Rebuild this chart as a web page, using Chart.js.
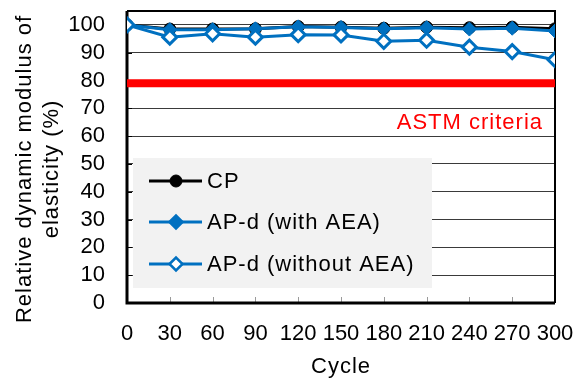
<!DOCTYPE html>
<html>
<head>
<meta charset="utf-8">
<script src="https://cdn.jsdelivr.net/npm/chart.js@4/dist/chart.umd.min.js"></script>
<style>
  html, body { margin: 0; padding: 0; background: #ffffff; }
  #wrap { width: 582px; height: 380px; }
</style>
</head>
<body>
<div id="wrap"><canvas id="c" width="582" height="380"></canvas></div>
<script>
// Freeze-thaw cycles and relative dynamic modulus (%)
const cycles = [0, 30, 60, 90, 120, 150, 180, 210, 240, 270, 300];
const cpValues = [100, 98.5, 98.5, 98.6, 99.4, 99.2, 98.8, 99.2, 99.0, 99.2, 98.6];
const withAeaValues = [100, 98.3, 98.3, 98.6, 99.3, 99.1, 98.6, 99.0, 98.5, 98.8, 97.8];
const withoutAeaValues = [100, 95.6, 96.8, 95.6, 96.5, 96.4, 94.1, 94.5, 92.0, 90.4, 87.5];
const astmLevel = 79;
const xTickValues = [0, 30, 60, 90, 120, 150, 180, 210, 240, 270, 300];
const yTickValues = [0, 10, 20, 30, 40, 50, 60, 70, 80, 90, 100];

const seriesNames = ['CP', 'AP-d (with AEA)', 'AP-d (without AEA)'];
const astmLabel = 'ASTM criteria';
const yTitleLines = ['Relative dynamic modulus of', 'elasticity (%)'];
const xTitle = 'Cycle';

const BLUE = '#0070C0';
const FONT = '"Liberation Sans", Arial, sans-serif';

const toPoints = vals => vals.map((v, i) => ({ x: cycles[i], y: v }));

// fixed axis box sizes; label overhang is absorbed by the layout padding
const fixAxisBox = (s, size) => {
  if (s.isHorizontal()) s.height = size; else s.width = size;
  s.paddingLeft = s.paddingRight = s.paddingTop = s.paddingBottom = 0;
};

// Plot frame, axis lines and inward tick marks (under the data)
const framePlugin = {
  id: 'frame',
  beforeDatasetsDraw(chart) {
    const { ctx, chartArea: a, scales } = chart;
    ctx.save();
    // inward x ticks
    ctx.strokeStyle = '#9a9a9a';
    ctx.lineWidth = 1;
    xTickValues.forEach(v => {
      const px = Math.round(scales.x.getPixelForValue(v)) + 0.5;
      ctx.beginPath();
      ctx.moveTo(px, a.bottom);
      ctx.lineTo(px, a.bottom - 6);
      ctx.stroke();
    });
    // inward y ticks
    ctx.strokeStyle = '#000';
    yTickValues.forEach(v => {
      const py = Math.round(scales.y.getPixelForValue(v)) + 0.5;
      ctx.beginPath();
      ctx.moveTo(a.left, py);
      ctx.lineTo(a.left + 5, py);
      ctx.stroke();
    });
    // top and right border
    ctx.strokeStyle = '#000';
    ctx.lineWidth = 2;
    ctx.beginPath();
    ctx.moveTo(a.left, a.top);
    ctx.lineTo(a.right, a.top);
    ctx.lineTo(a.right, a.bottom);
    ctx.stroke();
    // left and bottom axis lines
    ctx.lineWidth = 3;
    ctx.beginPath();
    ctx.moveTo(a.left, a.top);
    ctx.lineTo(a.left, a.bottom);
    ctx.lineTo(a.right, a.bottom);
    ctx.stroke();
    ctx.restore();
  }
};

function drawMarker(ctx, style, x, y, r, fill, stroke, lw) {
  ctx.beginPath();
  if (style === 'circle') {
    ctx.arc(x, y, r, 0, Math.PI * 2);
  } else {
    ctx.moveTo(x - r, y);
    ctx.lineTo(x, y - r);
    ctx.lineTo(x + r, y);
    ctx.lineTo(x, y + r);
    ctx.closePath();
  }
  ctx.fillStyle = fill;
  ctx.fill();
  ctx.lineWidth = lw;
  ctx.strokeStyle = stroke;
  ctx.stroke();
}

// Legend panel, criterion label and axis titles
const annotatePlugin = {
  id: 'annotate',
  afterDraw(chart) {
    const { ctx, chartArea: a } = chart;
    ctx.save();
    ctx.letterSpacing = '1px';
    ctx.font = '22px ' + FONT;
    ctx.textBaseline = 'middle';

    // legend panel
    ctx.fillStyle = '#f2f2f2';
    ctx.fillRect(133, 158, 299, 130);
    const rows = [181, 222, 264];
    seriesNames.forEach((name, i) => {
      const d = chart.data.datasets.find(ds => ds.label === name);
      const y = rows[i];
      ctx.strokeStyle = d.borderColor;
      ctx.lineWidth = 3;
      ctx.beginPath();
      ctx.moveTo(149, y);
      ctx.lineTo(202, y);
      ctx.stroke();
      drawMarker(ctx, d.pointStyle, 176, y, d.pointStyle === 'circle' ? 6 : 6.5,
        d.pointBackgroundColor, d.pointBorderColor, d.pointStyle === 'circle' ? 1 : 2.5);
      ctx.fillStyle = '#000';
      ctx.textAlign = 'left';
      ctx.fillText(d.label, 207, y + 1);
    });

    // criterion label
    ctx.fillStyle = '#ff0000';
    ctx.textAlign = 'right';
    ctx.fillText(astmLabel, 543, 123);

    // x title
    ctx.fillStyle = '#000';
    ctx.textAlign = 'center';
    ctx.fillText(xTitle, (a.left + a.right) / 2, 367);

    // y title
    ctx.translate(25, 169);
    ctx.rotate(-Math.PI / 2);
    ctx.fillText(yTitleLines[0], 0, 0);
    ctx.fillText(yTitleLines[1], 0, 27);
    ctx.restore();
  }
};

new Chart(document.getElementById('c'), {
  type: 'line',
  data: {
    datasets: [
      {
        label: seriesNames[2],
        data: toPoints(withoutAeaValues),
        borderColor: BLUE,
        borderWidth: 3,
        pointStyle: 'rectRot',
        pointRadius: 7,
        pointBorderWidth: 3,
        pointBackgroundColor: '#ffffff',
        pointBorderColor: BLUE,
        order: 0
      },
      {
        label: seriesNames[1],
        data: toPoints(withAeaValues),
        borderColor: BLUE,
        borderWidth: 3,
        pointStyle: 'rectRot',
        pointRadius: 7,
        pointBorderWidth: 1,
        pointBackgroundColor: BLUE,
        pointBorderColor: BLUE,
        order: 1
      },
      {
        label: seriesNames[0],
        data: toPoints(cpValues),
        borderColor: '#000000',
        borderWidth: 3,
        pointStyle: 'circle',
        pointRadius: 6,
        pointBorderWidth: 1,
        pointBackgroundColor: '#000000',
        pointBorderColor: '#000000',
        order: 2
      },
      {
        label: astmLabel,
        data: [{ x: cycles[0], y: astmLevel }, { x: cycles[cycles.length - 1], y: astmLevel }],
        borderColor: '#ff0000',
        borderWidth: 8,
        borderCapStyle: 'butt',
        pointRadius: 0,
        order: 3
      }
    ]
  },
  options: {
    responsive: false,
    devicePixelRatio: 1,
    animation: false,
    events: [],
    layout: { padding: { top: 11, right: 27, bottom: 0, left: 0 } },
    elements: { line: { tension: 0 } },
    plugins: { legend: { display: false }, tooltip: { enabled: false } },
    scales: {
      x: {
        type: 'linear',
        min: 0,
        max: 300,
        afterBuildTicks: s => { s.ticks = xTickValues.map(v => ({ value: v })); },
        afterFit: s => fixAxisBox(s, 77),
        grid: { display: false, drawTicks: false },
        border: { display: false },
        ticks: {
          autoSkip: false,
          maxRotation: 0,
          padding: 18,
          color: '#000',
          font: { family: FONT, size: 22 }
        }
      },
      y: {
        min: 0,
        max: 105,
        afterBuildTicks: s => { s.ticks = yTickValues.map(v => ({ value: v })); },
        afterFit: s => fixAxisBox(s, 127),
        grid: { color: '#3a3a3a', lineWidth: 1, drawTicks: false },
        border: { display: false },
        ticks: {
          autoSkip: false,
          padding: 22,
          color: '#000',
          font: { family: FONT, size: 22 }
        }
      }
    }
  },
  plugins: [framePlugin, annotatePlugin]
});
</script>
</body>
</html>
